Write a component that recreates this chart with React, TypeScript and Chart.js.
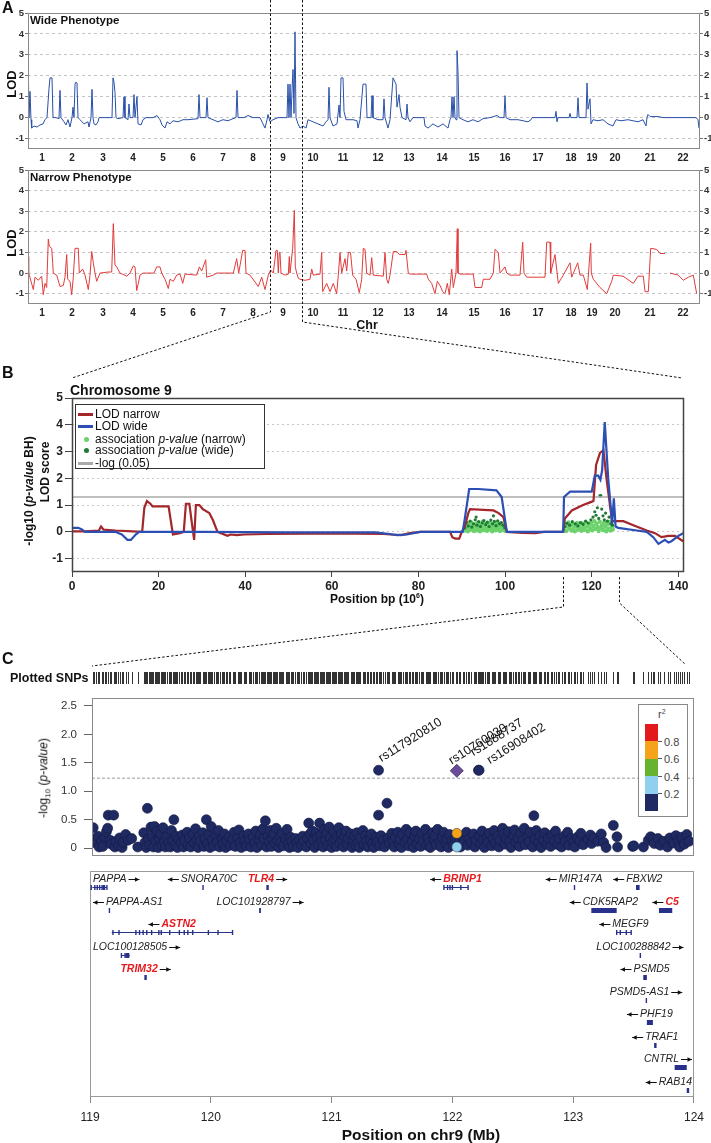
import React, { useEffect, useRef } from "react";
import { Chart, registerables } from "chart.js";

Chart.register(...registerables);
const FONT = "'Liberation Sans', Arial, Helvetica, sans-serif";
Chart.defaults.font.family = FONT;

// ---------------- Panel A: genome-wide LOD ----------------
const chrNames = ["1","2","3","4","5","6","7","8","9","10","11","12","13","14","15","16","17","18","19","20","21","22"];
const chrCenters = [14,44,75,105,135,165,195,225,255,285,315,350,381,414,446,477,510,543,564,587,622,655];
const lodTicks = [-1,0,1,2,3,4,5];

const wideLod: [number, number | null][] = [
  [0,0],[0.5,1.7],[1,0],[2,1.25],[3,-0.1],[3.7,-0.5],[6,-0.4],[9,-0.45],[12,-0.35],[15,-0.3],[17,-0.1],[19,0],[20,0.7],[21,1.4],[22,1.9],[24,1.9],[25,0],[28,0],[31,-0.05],[32,1.3],[33,0],[36,-0.2],[38,-0.35],[40,-0.1],[42,-0.45],[44,0],[45,0.5],[46,0],[47,1.6],[48,1.7],[49,1.65],[50,0],[52,-0.1],[56,-0.3],[60,-0.2],[61,-0.45],[63,0],[64,1.35],[65,0],[66,-0.3],[68,-0.35],[70,-0.2],[71,0],[84,0],[85,1.9],[86,1.7],[87,1.2],[88,0],[90,-0.05],[95,0],[96,1.0],[97,0],[100,-0.1],[101,0.65],[102,0],[105,0],[106,1.1],[107,0],[109,1.0],[110,-0.3],[113,-0.35],[115,-0.1],[118,0],[125,0],[129,0.1],[132,-0.1],[134,-0.35],[137,-0.5],[139,-0.2],[142,-0.3],[145,-0.15],[150,-0.2],[155,-0.1],[160,-0.1],[170,-0.05],[171,1.1],[172,0],[178,0],[179,0.95],[180,0],[185,-0.1],[190,-0.2],[195,-0.1],[200,-0.15],[205,-0.05],[208,0],[209,1.3],[210,0],[216,0],[220,0.1],[225,0],[232,0],[235,-0.3],[237,-0.5],[239,-0.1],[240,0.15],[242,-0.2],[245,-0.1],[250,0],[259,0],[260,1.6],[261,0],[262,1.6],[263,0],[264,1.3],[265,2.3],[266,0.2],[267,4.1],[268,0],[270,-0.3],[272,-0.5],[275,-0.4],[278,-0.5],[280,-0.1],[285,-0.2],[290,-0.3],[295,-0.4],[298,-0.2],[300,-0.1],[301,1.45],[302,0],[305,-0.4],[309,-0.3],[311,0.6],[312,0],[313,1.9],[315,1.9],[316,0.3],[318,-0.1],[325,-0.1],[329,-0.15],[330,-0.5],[332,-0.1],[335,1.6],[338,1.6],[339,0],[343,0],[344,1.05],[345,0],[350,-0.1],[355,-0.1],[356,0.9],[357,0],[360,-0.5],[362,-0.1],[365,1.9],[368,1.6],[369,0.5],[371,1.1],[372,0.5],[374,0],[378,-0.1],[379,0.65],[380,0],[382,-0.2],[385,0],[396,0],[397,-0.4],[400,-0.5],[405,-0.3],[410,-0.45],[415,-0.3],[420,-0.5],[422,-0.1],[423,0],[424,1.0],[425,0],[426,1.0],[427,0],[428,-0.1],[429,3.2],[430,2.2],[431,0],[435,-0.1],[440,-0.2],[445,-0.1],[450,-0.2],[455,-0.05],[462,0],[469,0.1],[472,0],[476,0],[477,1.05],[478,0],[482,-0.1],[490,-0.1],[500,-0.2],[503,-0.1],[504,0],[527,0],[528,0.3],[529,-0.2],[530,0],[541,0],[542,0.2],[543,0],[549,0],[550,0.95],[551,0],[558,0],[559,1.65],[560,0.4],[562,0.9],[563,-0.3],[565,-0.1],[570,-0.15],[575,-0.1],[580,-0.3],[585,-0.4],[588,-0.1],[593,-0.15],[600,-0.1],[610,-0.2],[615,-0.1],[618,-0.4],[619,0],[620,0.15],[622,0.05],[630,0.05],[635,0],[640,0],[660,0],[668,0],[670,-0.1],[671,-0.5]
];

const narrowLod: [number, number | null][] = [
  [0,0.8],[0.7,0],[1.3,-0.1],[5.3,-0.8],[7,-0.2],[10.3,-0.35],[13.7,-0.15],[15.3,-1.05],[17,-0.5],[18.7,-0.7],[20.3,1.65],[21.3,1.3],[23.7,1.2],[24.7,0.5],[25.3,0],[28.7,-0.1],[32,-0.65],[35.3,-0.6],[37,-0.2],[38.7,0.9],[39.7,-0.3],[42,-0.4],[43.7,-1.05],[45.3,-0.2],[47,1.2],[50.3,1.2],[51.3,0],[54.7,0.2],[57,-0.1],[60.3,-0.8],[62,-0.1],[63.7,1.05],[65.3,0.5],[67,0],[68.7,-0.4],[72,0],[80,0.05],[83.7,0.05],[85.3,2.4],[87,0.4],[88.7,0.3],[92,0],[98.7,-0.15],[102,0],[105.3,0.35],[107,0.3],[108.7,-0.85],[110.3,-0.5],[112,-0.1],[115,0],[126,0],[128.7,0.3],[132,0.3],[133.7,0],[137,-0.3],[140.3,-0.75],[142,-0.3],[145.3,-0.4],[148.7,-0.1],[152,-0.05],[154.7,-0.5],[157,-0.05],[168.7,-0.1],[171.3,0.3],[173.7,0.1],[177.7,0.65],[178.7,-0.2],[185.3,-0.1],[188.7,0],[205.3,0],[208.7,0.7],[210.7,0],[214.7,1.1],[217,1.1],[218,0],[222,-0.1],[230.3,-0.65],[233.7,-0.2],[237,-0.8],[240.3,-0.1],[242.7,0.15],[245.3,0],[248,1.1],[249.3,1.1],[250.3,0],[251.3,1.0],[252,1.0],[253,0],[257,-0.1],[260.3,-0.05],[261.3,0.8],[262,0],[264.7,1.2],[266.3,3.05],[267.3,0.3],[268.7,0],[270.3,-0.25],[272,-0.3],[277,-0.35],[282,-0.3],[283.7,0.2],[285.3,-0.1],[292,-0.05],[293.7,1.0],[294.7,-0.9],[298.7,-0.5],[302,-0.9],[305.3,-0.5],[308.7,-1.0],[310.3,-0.1],[312,1.0],[313.7,0],[317,0.7],[318.7,0.1],[320.3,1.0],[322.5,1.0],[324.7,-0.1],[328,-0.3],[331.3,-0.95],[333.7,-0.3],[335.3,1.2],[337,1.15],[338.7,0],[342,-0.1],[343.7,0.75],[345.3,-0.1],[355.3,-0.15],[357,1.0],[358.7,-0.3],[360.3,-0.5],[362,-0.1],[365.3,1.05],[368.7,1.05],[371.3,0.9],[377,0.9],[378,1.1],[380.3,0],[382,-0.05],[398.7,-0.05],[400.3,-0.3],[403.7,-0.5],[407,-1.0],[409.3,-0.4],[412,-0.6],[414.7,-0.9],[417,-1.0],[419.3,-0.5],[421.3,-1.05],[423.7,0.2],[425.3,-0.7],[428,0],[429.3,2.15],[430,0],[432,-0.05],[445.3,-0.05],[447,-0.7],[453.7,-0.7],[455.3,-0.3],[462,-0.3],[465.3,0],[467,1.15],[470.3,1.0],[472,0],[477,0.3],[478.7,0],[482,-0.1],[492,-0.1],[494.7,1.5],[496,0],[498.7,-0.2],[517,-0.2],[518.7,1.5],[522,1.5],[522.7,0],[527,0.9],[530.3,-0.5],[535.3,-0.1],[542,0.5],[543.7,-0.2],[549.7,0.5],[552,-0.1],[555.3,-0.1],[559.3,-0.8],[562.7,1.45],[563.3,0],[565.3,-0.3],[572,-0.7],[578.7,-1.0],[583.7,-0.4],[585.3,-0.1],[595,-0.15],[605.3,-0.5],[610,-0.15],[615.3,-0.15],[617,-0.9],[620.3,-0.9],[622.7,1.2],[628.7,1.15],[632,0.95],[637,0.95],[639,null],[642,0],[650.3,-0.1],[655.3,-0.35],[660.3,-0.2],[665.3,-0.1],[668.7,-1.0]
];

// ---------------- Panel B: chromosome 9 ----------------
const chr9Ticks = [0,20,40,60,80,100,120,140];
const lodNarrowChr9: [number, number][] = [
  [0,0.02],[3,0.02],[6.2,0.05],[6.7,0.2],[7.3,0.08],[10,0.05],[14,0.02],[16.2,0.0],[16.7,0.9],[17.3,1.15],[18.1,1.05],[18.6,0.95],[22.3,0.95],[23.3,-0.1],[24.9,-0.05],[25.8,0.0],[26.3,1.05],[27.1,1.05],[27.7,0.3],[28.2,-0.3],[28.6,1.0],[29.4,1.0],[30.2,0.85],[31.7,0.7],[32.5,0.45],[33.6,0.0],[35.9,-0.15],[36.6,-0.1],[38,-0.12],[39.7,-0.1],[45,-0.08],[55,-0.07],[65,-0.07],[72,-0.08],[73.5,-0.1],[76,-0.12],[78,-0.05],[80.4,0.0],[87.3,0.0],[87.8,-0.2],[88.5,-0.25],[89.4,-0.25],[90,0.0],[90.7,0.2],[91.5,0.7],[91.9,0.85],[95,0.82],[97.3,0.8],[98.5,0.7],[99.6,0.55],[100.4,0.0],[104,-0.04],[107,-0.05],[109,0.0],[113.4,0.0],[113.8,0.5],[115.4,0.8],[118,1.0],[119.6,1.1],[120.4,1.15],[121,2.5],[121.9,2.95],[122.7,3.05],[123.4,2.0],[124.2,1.0],[124.7,0.4],[127.3,0.4],[129.6,0.25],[132.7,0.05],[134.6,-0.05],[136.1,-0.2],[137.7,-0.15],[139.2,-0.15],[141.1,-0.35]
];
const lodWideChr9: [number, number][] = [
  [0,0.15],[1.4,0.15],[2.2,0.1],[3,0.0],[10,0.0],[11.5,-0.1],[12.8,-0.3],[13.6,-0.3],[14.7,-0.1],[15.5,0.0],[30,0.0],[50,-0.02],[70,-0.02],[73.4,-0.08],[75,-0.12],[77.3,-0.1],[80.4,0.0],[90.2,0.0],[90.7,0.5],[91.7,1.6],[93.8,1.6],[98,1.55],[99.2,1.3],[100.4,0.0],[113.4,0.0],[113.6,1.3],[115,1.5],[120,1.5],[120.7,2.1],[121.5,2.1],[122,1.95],[122.4,2.3],[123,4.1],[123.8,2.0],[124.4,0.9],[124.7,0.3],[125.1,1.25],[125.5,0.2],[126.1,0.15],[130.4,0.05],[132.7,0.0],[134.2,-0.2],[135.4,-0.45],[136.9,-0.3],[137.7,-0.4],[138.4,-0.35],[140,-0.15],[141.1,-0.05]
];
const assocNarrow: [number, number][] = [
  [90.6,0.05],[90.8,0.2],[91.0,0.1],[91.2,0.3],[91.4,0.02],[91.6,0.15],[91.8,0.25],[92.0,0.08],[92.2,0.35],[92.4,0.12],[92.6,0.22],[92.8,0.03],[93.0,0.28],[93.2,0.16],[93.4,0.06],[93.6,0.32],[93.8,0.1],[94.0,0.2],[94.2,0.02],[94.4,0.27],[94.6,0.14],[94.8,0.38],[95.0,0.07],[95.2,0.24],[95.4,0.12],[95.6,0.3],[95.8,0.04],[96.0,0.18],[96.2,0.26],[96.4,0.09],[96.6,0.33],[96.8,0.15],[97.0,0.02],[97.2,0.22],[97.4,0.11],[97.6,0.29],[97.8,0.06],[98.0,0.19],[98.2,0.36],[98.4,0.1],[98.6,0.24],[98.8,0.03],[99.0,0.17],[99.2,0.3],[99.4,0.08],[99.6,0.21],[99.8,0.13],[100.0,0.04],
  [113.6,0.1],[113.85,0.3],[114.1,0.03],[114.35,0.2],[114.6,0.35],[114.85,0.12],[115.1,0.25],[115.35,0.05],[115.6,0.3],[115.85,0.15],[116.1,0.02],[116.35,0.22],[116.6,0.33],[116.85,0.09],[117.1,0.27],[117.35,0.14],[117.6,0.04],[117.85,0.31],[118.1,0.18],[118.35,0.08],[118.6,0.36],[118.85,0.2],[119.1,0.02],[119.35,0.26],[119.6,0.13],[119.85,0.33],[120.1,0.06],[120.35,0.22],[120.6,0.4],[120.85,0.11],[121.1,0.3],[121.35,0.18],[121.6,0.03],[121.85,0.38],[122.1,0.15],[122.35,0.25],[122.6,0.07],[122.85,0.34],[123.1,0.19],[123.35,0.02],[123.6,0.28],[123.85,0.12],[124.1,0.37],[124.35,0.05],[124.6,0.2],[124.85,0.1]
];
const assocWide: [number, number][] = [
  [90.7,0.15],[91.1,0.35],[91.5,0.22],[91.9,0.4],[92.3,0.18],[92.7,0.3],[93.1,0.45],[93.3,0.55],[93.5,0.25],[93.9,0.38],[94.3,0.2],[94.7,0.33],[95.1,0.42],[95.5,0.27],[95.9,0.36],[96.3,0.2],[96.7,0.44],[97.1,0.3],[97.3,0.6],[97.5,0.39],[97.9,0.23],[98.3,0.41],[98.7,0.3],[99.1,0.35],[99.5,0.25],[99.9,0.15],
  [113.8,0.2],[114.3,0.32],[114.9,0.25],[115.5,0.38],[116.2,0.3],[116.8,0.22],[117.4,0.35],[118.0,0.28],[118.6,0.4],[119.2,0.33],[119.8,0.45],[120.3,0.55],[120.7,0.75],[121.0,0.62],[121.3,0.9],[121.6,0.5],[121.9,1.35],[122.1,1.35],[122.3,0.85],[122.6,0.6],[122.9,0.45],[123.2,0.7],[123.6,0.4],[124.0,0.55],[124.4,0.3],[124.8,0.25]
];
const bhThreshold = 1.3;

// ---------------- Panel C: regional association ----------------
const logPTicks = [0,0.5,1,1.5,2,2.5];
const snpData: [number, number][] = [
  [119.01,0.36],[119.02,0.16],[119.03,0.09],[119.05,0.21],[119.06,0.02],[119.08,0.13],[119.09,0.03],[119.11,0.19],[119.12,0.29],[119.13,0.35],[119.135,0.58],[119.15,0.14],[119.16,0.07],[119.18,0.58],[119.19,0.02],[119.20,0.12],[119.22,0.04],[119.23,0.18],[119.25,0.01],[119.26,0.10],[119.28,0.24],[119.30,0.14],[119.33,0.17],[119.38,0.02],
  [119.43,0.27],[119.44,0.1],[119.45,0.01],[119.46,0.70],[119.47,0.17],[119.48,0.05],[119.49,0.37],[119.50,0.21],[119.51,0.02],[119.52,0.38],[119.53,0.12],[119.54,0.30],[119.55,0.01],[119.56,0.16],[119.57,0.25],[119.58,0.06],[119.59,0.36],[119.60,0.12],[119.61,0.02],[119.62,0.20],[119.64,0.10],[119.65,0.02],[119.66,0.31],[119.67,0.13],[119.68,0.50],[119.69,0.05],[119.70,0.21],[119.71,0.01],[119.72,0.16],[119.74,0.09],[119.75,0.23],[119.76,0.02],[119.77,0.14],[119.79,0.28],
  [119.80,0.05],[119.81,0.18],[119.82,0.02],[119.84,0.25],[119.85,0.09],[119.86,0.34],[119.87,0.15],[119.88,0.01],[119.89,0.21],[119.90,0.12],[119.92,0.27],[119.93,0.03],[119.94,0.17],[119.95,0.50],[119.96,0.08],[119.97,0.24],[119.98,0.01],[119.99,0.38],[120.00,0.15],[120.01,0.04],[120.03,0.22],[120.04,0.10],[120.05,0.31],[120.06,0.02],[120.08,0.17],[120.09,0.07],[120.10,0.25],[120.11,0.01],[120.12,0.13],[120.14,0.20],[120.15,0.05],[120.17,0.15],[120.18,0.28],[120.19,0.03],
  [120.21,0.18],[120.22,0.32],[120.23,0.09],[120.24,0.01],[120.26,0.22],[120.27,0.12],[120.28,0.04],[120.30,0.25],[120.31,0.15],[120.32,0.02],[120.34,0.19],[120.35,0.09],[120.36,0.30],[120.37,0.01],[120.39,0.14],[120.40,0.24],[120.41,0.06],[120.42,0.34],[120.43,0.17],[120.44,0.48],[120.45,0.02],[120.46,0.21],[120.47,0.11],[120.48,0.31],[120.49,0.03],[120.50,0.17],[120.51,0.25],[120.52,0.08],[120.53,0.35],[120.54,0.14],[120.55,0.01],[120.56,0.20],[120.57,0.10],[120.58,0.26],[120.59,0.04],[120.61,0.16],[120.62,0.33],[120.63,0.08],[120.64,0.01],[120.65,0.19],[120.66,0.12],[120.67,0.03],[120.69,0.17],
  [120.70,0.09],[120.71,0.01],[120.72,0.15],[120.74,0.06],[120.75,0.21],[120.76,0.11],[120.78,0.02],[120.79,0.18],[120.80,0.44],[120.81,0.25],[120.82,0.08],[120.83,0.30],[120.84,0.14],[120.85,0.01],[120.86,0.27],[120.87,0.19],[120.88,0.06],[120.89,0.44],[120.90,0.22],[120.91,0.12],[120.92,0.02],[120.93,0.33],[120.94,0.16],[120.95,0.26],[120.96,0.05],[120.97,0.37],[120.98,0.19],[120.99,0.01],[121.00,0.11],[121.01,0.29],[121.02,0.15],[121.03,0.03],[121.04,0.21],[121.05,0.36],[121.06,0.09],[121.07,0.24],[121.08,0.14],[121.09,0.02],[121.10,0.20],[121.11,0.30],[121.12,0.07],[121.13,0.17],[121.15,0.25],[121.16,0.01],[121.17,0.13],[121.18,0.22],[121.19,0.05],
  [121.20,0.27],[121.21,0.10],[121.22,0.01],[121.23,0.18],[121.25,0.31],[121.26,0.06],[121.27,0.22],[121.28,0.13],[121.29,0.02],[121.31,0.16],[121.32,0.25],[121.33,0.08],[121.34,0.01],[121.36,0.19],[121.37,0.11],[121.38,0.58],[121.39,0.04],[121.40,0.22],[121.42,0.14],[121.43,0.02],[121.45,0.79],[121.46,0.18],[121.47,0.09],[121.49,0.26],[121.50,0.13],[121.51,0.02],[121.52,0.20],[121.54,0.28],[121.55,0.07],[121.56,0.15],[121.57,0.01],[121.58,0.24],[121.60,0.10],[121.61,0.33],[121.62,0.17],[121.63,0.04],[121.64,0.27],[121.66,0.12],[121.67,0.01],[121.68,0.21],[121.69,0.30],[121.70,0.08],[121.72,0.16],[121.73,0.03],[121.74,0.25],[121.75,0.13],[121.77,0.33],[121.78,0.05],[121.79,0.18],[121.80,0.10],[121.81,0.01],[121.83,0.27],[121.84,0.15],[121.85,0.22],[121.86,0.06],[121.87,0.33],[121.89,0.12],[121.90,0.02],[121.91,0.19],[121.92,0.28],[121.94,0.08],[121.95,0.17],[121.96,0.01],[121.97,0.24],[121.99,0.13],[122.00,0.05],[122.02,0.16],[122.05,0.10],[122.06,0.02],[122.08,0.20],[122.09,0.12],[122.11,0.28],[122.12,0.05],[122.13,0.16],[122.15,0.09],[122.17,0.25],[122.18,0.02],[122.19,0.14],
  [122.22,0.22],[122.23,0.08],[122.24,0.30],[122.25,0.15],[122.26,0.01],[122.28,0.19],[122.29,0.11],[122.30,0.26],[122.32,0.04],[122.33,0.17],[122.34,0.31],[122.35,0.09],[122.37,0.21],[122.38,0.02],[122.39,0.14],[122.41,0.35],[122.42,0.24],[122.43,0.07],[122.44,0.18],[122.46,0.29],[122.47,0.12],[122.48,0.01],[122.50,0.22],[122.51,0.32],[122.52,0.10],[122.54,0.17],[122.55,0.03],[122.56,0.26],[122.58,0.14],[122.59,0.35],[122.60,0.06],[122.62,0.20],[122.63,0.11],[122.64,0.28],[122.66,0.02],[122.67,0.57],[122.68,0.16],[122.69,0.31],[122.71,0.09],[122.72,0.22],[122.73,0.01],[122.75,0.14],[122.76,0.27],[122.78,0.07],[122.79,0.18],[122.81,0.03],[122.82,0.23],[122.84,0.12],[122.85,0.30],[122.87,0.06],[122.88,0.16],[122.90,0.02],[122.92,0.21],[122.93,0.12],[122.95,0.28],[122.96,0.05],[122.98,0.17],[123.00,0.10],[123.01,0.02],[123.03,0.19],[123.05,0.13],[123.06,0.26],[123.08,0.06],
  [123.12,0.16],[123.14,0.23],[123.15,0.08],[123.17,0.18],[123.20,0.12],[123.23,0.25],[123.25,0.10],[123.27,0.01],
  [123.33,0.40],[123.36,0.20],[123.365,0.02],[123.49,0.03],[123.50,0.04],[123.58,0.02],[123.62,0.14],[123.64,0.20],[123.66,0.16],[123.67,0.08],[123.70,0.17],[123.72,0.05],[123.75,0.12],[123.78,0.02],[123.80,0.18],[123.83,0.09],[123.85,0.22],[123.87,0.14],[123.88,0.02],[123.90,0.19],[123.92,0.07],[123.94,0.24],[123.96,0.12]
];
const labelledSnps = ["rs117920810","rs10760030","rs1888737","rs16908402"];
const labelledPos = [121.38, 122.03, 122.21, 122.215];
const labelledLogP = [1.37, 1.36, 1.37, 1.37];
const leadIndex = 1;
const ldPos = [122.03, 122.03];
const ldLogP = [0.26, 0.02];
const ldR2 = [0.7, 0.3];
const r2Breaks = [0.2, 0.4, 0.6, 0.8];
const r2Colors = ["#1f2a63", "#8fd0ef", "#65b32e", "#f5a31a", "#e31a1c"];
const suggestiveLine = 1.23;

const mbTicks = [119,120,121,122,123,124];
const geneNames = ["PAPPA","SNORA70C","TLR4","BRINP1","MIR147A","FBXW2","PAPPA-AS1","LOC101928797","CDK5RAP2","C5","ASTN2","MEGF9","LOC100128505","LOC100288842","TRIM32","PSMD5","PSMD5-AS1","PHF19","TRAF1","CNTRL","RAB14"];
const geneStart = [119.02,119.93,120.46,121.93,123.005,123.52,119.155,120.40,123.15,123.71,119.18,123.36,119.26,123.55,119.45,123.58,123.60,123.61,123.67,123.84,123.94];
const geneEnd =   [119.14,119.935,120.48,122.13,123.01,123.55,119.16,120.415,123.36,123.82,120.18,123.48,119.33,123.555,119.47,123.61,123.605,123.66,123.69,123.94,123.96];
const geneRow = [0,0,0,0,0,0,1,1,1,1,2,2,3,3,4,4,5,6,7,8,9];
const geneStrand = ["+","-","+","-","-","-","-","+","-","-","-","-","+","+","+","-","+","-","-","+","-"];
const geneHighlight = ["TLR4","BRINP1","C5","ASTN2","TRIM32"];
const geneExons: number[][] = [
  [119.01,119.04,119.06,119.08,119.10,119.11,119.12,119.14],[],[],
  [121.93,121.96,121.98,122.00,122.07,122.13],[],[],[],[],[],[],
  [119.19,119.24,119.38,119.41,119.44,119.47,119.51,119.57,119.59,119.66,119.74,119.78,119.81,119.85,119.98,120.06,120.18],
  [123.36,123.39,123.44,123.48],
  [119.26,119.29,119.30,119.31,119.32],
  [],[],[],[],[],[],[],[]
];

// ---------------- helpers ----------------
const framePlugin = {
  id: "frame",
  afterDatasetsDraw(chart: any, _a: any, opts: any) {
    const { ctx, chartArea } = chart;
    const { left, top, right, bottom } = chartArea;
    ctx.save();
    ctx.strokeStyle = opts.color || "#888";
    ctx.lineWidth = opts.width || 1;
    ctx.strokeRect(Math.round(left) + 0.5, Math.round(top) + 0.5, Math.round(right - left) - 1, Math.round(bottom - top) - 1);
    ctx.restore();
  },
};

function r2Color(r2: number) {
  let i = 0;
  while (i < r2Breaks.length && r2 >= r2Breaks[i]) i++;
  return r2Colors[i];
}

function lodConfig(points: [number, number | null][], color: string, padTop: number, xHeight: number) {
  const yAxis = (pos: string, w: number) => ({
    position: pos,
    min: -1.5,
    max: 5,
    afterBuildTicks: (s: any) => { s.ticks = lodTicks.map((v) => ({ value: v })); },
    afterFit: (s: any) => { s.width = w; },
    ticks: { font: { size: 9.5, weight: "bold" }, color: "#333", padding: 1 },
    grid: { drawOnChartArea: pos === "left", color: "#c4c4c4", tickLength: 3, tickColor: "#777", lineWidth: 1 },
    border: { display: false, dash: [3, 3] },
  });
  return {
    type: "line",
    data: {
      datasets: [{
        data: points.map(([x, y]) => ({ x, y })),
        borderColor: color, borderWidth: 1, pointRadius: 0, tension: 0, spanGaps: false,
      }],
    },
    options: {
      animation: false, responsive: false, events: [],
      layout: { padding: { top: padTop, left: 0, right: 0, bottom: 0 } },
      plugins: { legend: { display: false }, tooltip: { enabled: false }, frame: { color: "#8a8a8a" } },
      scales: {
        x: {
          type: "linear", min: 0, max: 672,
          afterBuildTicks: (s: any) => { s.ticks = chrCenters.map((v) => ({ value: v })); },
          afterFit: (s: any) => { s.height = xHeight; },
          ticks: { autoSkip: false, maxRotation: 0, padding: 3, font: { size: 10, weight: "bold" }, color: "#222",
            callback: (_v: any, i: number) => chrNames[i] },
          grid: { display: false, drawTicks: false },
          border: { display: false },
        },
        y: yAxis("left", 28),
        y2: yAxis("right", 11),
      },
    },
    plugins: [framePlugin],
  };
}

function chr9Config() {
  return {
    type: "line",
    data: {
      datasets: [
        { data: lodWideChr9.map(([x, y]) => ({ x, y })), borderColor: "#2c4fb5", borderWidth: 2.2, pointRadius: 0, tension: 0 },
        { data: lodNarrowChr9.map(([x, y]) => ({ x, y })), borderColor: "#a3262a", borderWidth: 2.2, pointRadius: 0, tension: 0 },
        { data: [{ x: 0, y: bhThreshold }, { x: 141.3, y: bhThreshold }], borderColor: "#aaaaaa", borderWidth: 1.5, pointRadius: 0 },
        { type: "scatter", data: assocWide.map(([x, y]) => ({ x, y })), showLine: false, pointRadius: 1.6, borderWidth: 0, backgroundColor: "#1f7a36" },
        { type: "scatter", data: assocNarrow.map(([x, y]) => ({ x, y })), showLine: false, pointRadius: 2.2, borderWidth: 0, backgroundColor: "#6cd26c" },
      ],
    },
    options: {
      animation: false, responsive: false, events: [],
      layout: { padding: { top: 18, left: 0, right: 27, bottom: 0 } },
      plugins: { legend: { display: false }, tooltip: { enabled: false }, frame: { color: "#444", width: 1.5 } },
      scales: {
        x: {
          type: "linear", min: 0, max: 141.3,
          afterBuildTicks: (s: any) => { s.ticks = chr9Ticks.map((v) => ({ value: v })); },
          afterFit: (s: any) => { s.height = 38; },
          ticks: { autoSkip: false, maxRotation: 0, padding: 2, font: { size: 12, weight: "bold" }, color: "#222" },
          grid: { drawOnChartArea: false, tickLength: 5, tickColor: "#444" },
          border: { display: false },
        },
        y: {
          min: -1.5, max: 5,
          afterBuildTicks: (s: any) => { s.ticks = lodTicks.map((v) => ({ value: v })); },
          afterFit: (s: any) => { s.width = 72; },
          ticks: { font: { size: 12, weight: "bold" }, color: "#222", padding: 2 },
          grid: { color: "#c8c8c8", tickLength: 7, tickColor: "#444" },
          border: { display: false, dash: [2, 3] },
        },
      },
    },
    plugins: [framePlugin],
  };
}

const allSnpPositions = [...snpData.map((d) => d[0]), ...ldPos, ...labelledPos].sort((a, b) => a - b);

const snpExtrasPlugin = {
  id: "snpExtras",
  afterDatasetsDraw(chart: any) {
    const { ctx, chartArea } = chart;
    const xs = chart.scales.x, ys = chart.scales.y;
    ctx.save();
    ctx.strokeStyle = "#333";
    ctx.lineWidth = 1;
    allSnpPositions.forEach((p) => {
      const x = Math.round(xs.getPixelForValue(p)) + 0.5;
      ctx.beginPath();
      ctx.moveTo(x, chartArea.top - 26);
      ctx.lineTo(x, chartArea.top - 14);
      ctx.stroke();
    });
    const dx = [3, -5, -5, 11];
    const dy = [-8, -6, -14, -6];
    ctx.fillStyle = "#111";
    ctx.font = `12.5px ${FONT}`;
    ctx.textBaseline = "alphabetic";
    labelledSnps.forEach((name, i) => {
      const x = xs.getPixelForValue(labelledPos[i]) + dx[i];
      const y = ys.getPixelForValue(labelledLogP[i]) + dy[i];
      ctx.save();
      ctx.translate(x, y);
      ctx.rotate(-32 * Math.PI / 180);
      ctx.fillText(name, 0, 0);
      ctx.restore();
    });
    ctx.restore();
  },
};

function assocConfig() {
  const navy = snpData.concat(labelledPos.map((p, i) => [p, labelledLogP[i]] as [number, number]).filter((_d, i) => i !== leadIndex));
  return {
    type: "scatter",
    data: {
      datasets: [
        { data: [{ x: labelledPos[leadIndex], y: labelledLogP[leadIndex] }], pointStyle: "rectRot", pointRadius: 6.5, backgroundColor: "#6b4c9a", borderColor: "#3c2a63", borderWidth: 0.8 },
        { data: ldPos.map((p, i) => ({ x: p, y: ldLogP[i] })), pointRadius: 5, backgroundColor: ldR2.map(r2Color), borderColor: "#333", borderWidth: 0.5 },
        { data: navy.map(([x, y]) => ({ x, y })), pointRadius: 5, backgroundColor: r2Colors[0], borderColor: "#141a40", borderWidth: 0.6 },
        { type: "line", data: [{ x: 119, y: suggestiveLine }, { x: 124, y: suggestiveLine }], borderColor: "#9a9a9a", borderWidth: 1, borderDash: [3, 2], pointRadius: 0 },
      ],
    },
    options: {
      animation: false, responsive: false, events: [],
      layout: { padding: { top: 38, left: 0, right: 17, bottom: 13 } },
      plugins: { legend: { display: false }, tooltip: { enabled: false }, frame: { color: "#8a8a8a" } },
      scales: {
        x: { type: "linear", min: 119, max: 124, display: false },
        y: {
          min: -0.14, max: 2.64,
          afterBuildTicks: (s: any) => { s.ticks = logPTicks.map((v) => ({ value: v })); },
          afterFit: (s: any) => { s.width = 92; },
          ticks: { font: { size: 11.5 }, color: "#333", padding: 7 },
          grid: { drawOnChartArea: false, tickLength: 8, tickColor: "#666" },
          border: { display: false },
        },
      },
    },
    plugins: [framePlugin, snpExtrasPlugin],
  };
}

function drawArrow(ctx: any, x1: number, x2: number, y: number) {
  ctx.beginPath();
  ctx.moveTo(x1, y);
  ctx.lineTo(x2, y);
  ctx.stroke();
  const dir = x2 > x1 ? 1 : -1;
  ctx.beginPath();
  ctx.moveTo(x2, y);
  ctx.lineTo(x2 - dir * 4.5, y - 2.3);
  ctx.lineTo(x2 - dir * 4.5, y + 2.3);
  ctx.closePath();
  ctx.fill();
}

const genePlugin = {
  id: "genes",
  afterDraw(chart: any) {
    const { ctx, chartArea } = chart;
    const xs = chart.scales.x, ys = chart.scales.y;
    ctx.save();
    ctx.beginPath();
    ctx.rect(chartArea.left, chartArea.top, chartArea.right - chartArea.left, chartArea.bottom - chartArea.top);
    ctx.clip();
    geneNames.forEach((name, i) => {
      const x1 = xs.getPixelForValue(geneStart[i]);
      const x2 = xs.getPixelForValue(geneEnd[i]);
      const yb = Math.round(ys.getPixelForValue(geneRow[i])) + 0.5;
      ctx.fillStyle = "#27308a";
      ctx.strokeStyle = "#27308a";
      ctx.lineWidth = 1;
      const ex = geneExons[i];
      if (ex.length) {
        ctx.beginPath();
        ctx.moveTo(x1, yb);
        ctx.lineTo(x2, yb);
        ctx.stroke();
        ex.forEach((e) => {
          const xe = xs.getPixelForValue(e);
          ctx.fillRect(xe - 0.7, yb - 2.5, 1.4, 5);
        });
      } else {
        ctx.fillRect(x1, yb - 2.5, Math.max(x2 - x1, 1.4), 5);
      }
      const hl = geneHighlight.includes(name);
      ctx.font = `${hl ? "italic bold" : "italic"} 10.5px ${FONT}`;
      const tw = ctx.measureText(name).width;
      const aw = 13;
      const total = tw + aw;
      let left = (x1 + x2) / 2 - total / 2;
      left = Math.max(chartArea.left + 3, Math.min(left, chartArea.right - 2 - total));
      const ly = yb - 8;
      ctx.textBaseline = "middle";
      ctx.fillStyle = "#111";
      ctx.strokeStyle = "#111";
      if (geneStrand[i] === "+") {
        ctx.fillStyle = hl ? "#e8191e" : "#222";
        ctx.fillText(name, left, ly);
        ctx.fillStyle = "#111";
        drawArrow(ctx, left + tw + 2, left + tw + aw, ly);
      } else {
        drawArrow(ctx, left + aw - 2, left, ly);
        ctx.fillStyle = hl ? "#e8191e" : "#222";
        ctx.fillText(name, left + aw, ly);
      }
    });
    ctx.restore();
  },
};

function geneConfig() {
  return {
    type: "scatter",
    data: { datasets: [] },
    options: {
      animation: false, responsive: false, events: [],
      layout: { padding: { top: 9, left: 90, right: 16, bottom: 0 } },
      plugins: { legend: { display: false }, tooltip: { enabled: false }, frame: { color: "#9a9a9a" } },
      scales: {
        x: {
          type: "linear", min: 119, max: 124,
          afterBuildTicks: (s: any) => { s.ticks = mbTicks.map((v) => ({ value: v })); },
          afterFit: (s: any) => { s.height = 46; },
          ticks: { autoSkip: false, maxRotation: 0, padding: 7, font: { size: 12 }, color: "#222" },
          grid: { drawOnChartArea: false, tickLength: 6, tickColor: "#888" },
          border: { display: false },
        },
        y: { type: "linear", min: -0.71, max: 9.31, reverse: true, display: false },
      },
    },
    plugins: [framePlugin, genePlugin],
  };
}

function ChartCanvas({ left, top, width, height, build }: any) {
  const ref = useRef<HTMLCanvasElement | null>(null);
  useEffect(() => {
    if (!ref.current) return;
    const chart = new Chart(ref.current, build());
    return () => chart.destroy();
  }, []);
  return (
    <canvas ref={ref} width={width} height={height}
      style={{ position: "absolute", left, top, width, height }} />
  );
}

function Txt({ x, y, size = 11, bold = false, italic = false, align = "left", rotate = 0, color = "#111", children }: any) {
  const tx = align === "center" ? "-50%" : align === "right" ? "-100%" : "0%";
  return (
    <div style={{
      position: "absolute", left: x, top: y,
      transform: `translate(${tx}, -50%)` + (rotate ? ` rotate(${rotate}deg)` : ""),
      fontFamily: FONT, fontSize: size, fontWeight: bold ? 700 : 400,
      fontStyle: italic ? "italic" : "normal", color, whiteSpace: "nowrap",
      lineHeight: 1, pointerEvents: "none",
    }}>{children}</div>
  );
}

export default function App() {
  const legendRows = [
    { y: 414, kind: "line", color: "#a3262a", label: <>LOD narrow</> },
    { y: 426, kind: "line", color: "#2c4fb5", label: <>LOD wide</> },
    { y: 439, kind: "dot", color: "#6cd26c", label: <>association <i>p-value</i> (narrow)</> },
    { y: 450, kind: "dot", color: "#1f7a36", label: <>association <i>p-value</i> (wide)</> },
    { y: 463, kind: "line", color: "#aaaaaa", label: <>-log (0.05)</> },
  ];
  const r2Labels = ["0.8", "0.6", "0.4", "0.2"];
  return (
    <div style={{ position: "absolute", left: 0, top: 0, width: 711, height: 1143, background: "#fff", overflow: "hidden", fontFamily: FONT }}>
      <ChartCanvas left={0} top={0} width={711} height={165} build={() => lodConfig(wideLod, "#2850a8", 13, 16)} />
      <ChartCanvas left={0} top={160} width={711} height={165} build={() => lodConfig(narrowLod, "#e23b3b", 10, 21)} />
      <ChartCanvas left={0} top={380} width={711} height={230} build={chr9Config} />
      <ChartCanvas left={0} top={660} width={711} height={210} build={assocConfig} />
      <ChartCanvas left={0} top={862} width={711} height={281} build={geneConfig} />

      {/* Panel A text */}
      <Txt x={2} y={8} size={16} bold>A</Txt>
      <Txt x={30} y={21} size={11.5} bold>Wide Phenotype</Txt>
      <Txt x={30} y={178} size={11.5} bold>Narrow Phenotype</Txt>
      <Txt x={11} y={84} size={13} bold align="center" rotate={-90}>LOD</Txt>
      <Txt x={11} y={243} size={13} bold align="center" rotate={-90}>LOD</Txt>
      <Txt x={367} y={325} size={12.5} bold align="center">Chr</Txt>

      {/* Panel B text */}
      <Txt x={2} y={373} size={16} bold>B</Txt>
      <Txt x={70} y={390} size={14} bold>Chromosome 9</Txt>
      <Txt x={29} y={491} size={12} bold align="center" rotate={-90}>-log10 (<i>p-value</i> BH)</Txt>
      <Txt x={45} y={472} size={12} bold align="center" rotate={-90}>LOD score</Txt>
      <Txt x={377} y={598} size={12} bold align="center">Position bp (10<sup style={{ fontSize: 7 }}>6</sup>)</Txt>
      <div style={{ position: "absolute", left: 75, top: 404, width: 190, height: 65, border: "1.5px solid #333", background: "#fff", boxSizing: "border-box" }} />
      {legendRows.map((r, i) => (
        <React.Fragment key={i}>
          {r.kind === "line" ? (
            <div style={{ position: "absolute", left: 78, top: r.y - 1.5, width: 15, height: 3, background: r.color }} />
          ) : (
            <div style={{ position: "absolute", left: 84, top: r.y - 2.5, width: 5, height: 5, borderRadius: 3, background: r.color }} />
          )}
          <Txt x={95} y={r.y} size={12}>{r.label}</Txt>
        </React.Fragment>
      ))}

      {/* Panel C text */}
      <Txt x={2} y={659} size={16} bold>C</Txt>
      <Txt x={10} y={678} size={12.5} bold>Plotted SNPs</Txt>
      <Txt x={45} y={778} size={12} align="center" rotate={-90}>-log<sub style={{ fontSize: 8 }}>10</sub> (<i>p-value</i>)</Txt>
      <Txt x={421} y={1135} size={15.5} bold align="center">Position on chr9 (Mb)</Txt>

      {/* r2 legend */}
      <div style={{ position: "absolute", left: 638, top: 704, width: 50, height: 113, border: "1px solid #888", background: "#fff", boxSizing: "border-box" }} />
      {r2Colors.slice().reverse().map((c, i) => (
        <div key={c} style={{ position: "absolute", left: 645, top: 724 + i * 17.4, width: 13, height: 17.4, background: c }} />
      ))}
      {r2Labels.map((l, i) => (
        <React.Fragment key={l}>
          <div style={{ position: "absolute", left: 658, top: 741 + i * 17.4, width: 4, height: 1, background: "#555" }} />
          <Txt x={664} y={742 + i * 17.4} size={11} color="#444">{l}</Txt>
        </React.Fragment>
      ))}
      <Txt x={658} y={714} size={11} color="#444">r<sup style={{ fontSize: 7 }}>2</sup></Txt>

      {/* connectors */}
      <svg width={711} height={1143} style={{ position: "absolute", left: 0, top: 0, pointerEvents: "none" }}>
        <polyline points="270.5,0 270.5,312 72,378" fill="none" stroke="#111" strokeWidth={1} strokeDasharray="2.5 2" />
        <polyline points="302.5,0 302.5,322 682,378" fill="none" stroke="#111" strokeWidth={1} strokeDasharray="2.5 2" />
        <polyline points="563.5,577 563.5,607 92,666" fill="none" stroke="#111" strokeWidth={1} strokeDasharray="2.5 2" />
        <polyline points="619.5,577 619.5,603 686,665" fill="none" stroke="#111" strokeWidth={1} strokeDasharray="2.5 2" />
      </svg>
    </div>
  );
}
